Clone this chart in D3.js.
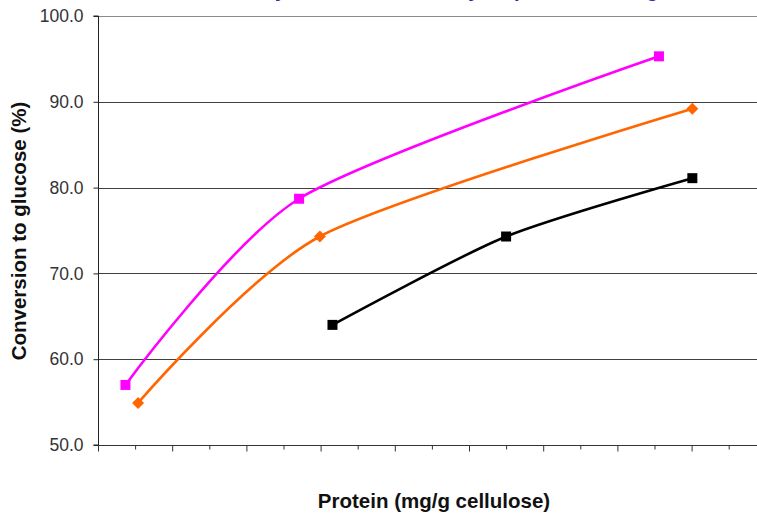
<!DOCTYPE html>
<html><head><meta charset="utf-8">
<script src="https://cdn.jsdelivr.net/npm/d3@7"></script>
<style>body{margin:0;background:#fff}svg{display:block}</style>
</head><body>
<script>
// Data (x in protein loading units, y = conversion %)
const pinkX = [3.7, 27.1, 75.6];
const pinkY = [57.0, 78.7, 95.3];
const orangeX = [5.4, 29.9, 80.1];
const orangeY = [54.9, 74.3, 89.2];
const blackX = [31.6, 55.0, 80.1];
const blackY = [64.0, 74.3, 81.1];
const yTicks = [50, 60, 70, 80, 90, 100];
const title = "Glucose yield at different enzyme protein loadings";

const W = 757, H = 519;
const FONT = "Liberation Sans, Arial, sans-serif";
const svg = d3.select("body").append("svg").attr("width", W).attr("height", H);
const x = d3.scaleLinear().domain([0, 90]).range([98, 98 + 90 * 7.42]);
const y = d3.scaleLinear().domain([50, 100]).range([445, 16]);

// title (mostly clipped off the top, as in the reference)
svg.append("text").attr("x", 430).attr("y", -3.5).attr("text-anchor", "middle")
  .attr("font-family", FONT).attr("font-weight", "bold")
  .attr("font-size", 20).attr("fill", "#2b2bb0").text(title);

// gridlines
svg.append("g").selectAll("line").data(yTicks.filter(d => d > 50)).join("line")
  .attr("x1", 98).attr("x2", W).attr("y1", d => Math.round(y(d)) + 0.5).attr("y2", d => Math.round(y(d)) + 0.5)
  .attr("stroke", d => d === 100 ? "#8a8a8a" : "#404040").attr("stroke-width", 1);

// y axis
const yAxis = d3.axisLeft(y).tickValues(yTicks).tickFormat(d3.format(".1f")).tickSize(5).tickPadding(10);
const gy = svg.append("g").attr("transform", "translate(98.5,0)").call(yAxis);
gy.select(".domain").attr("stroke", "#222").attr("d", `M-5,${y(100)}H0V${y(50)}H-5`);
gy.selectAll(".tick line").attr("stroke", "#222");
gy.selectAll("text").attr("font-family", FONT).attr("font-size", 17.5).attr("fill", "#333");

// x axis (major + minor ticks, no labels)
const majorT = d3.range(0, 100, 10), minorT = d3.range(5, 100, 10);
const gx = svg.append("g").attr("transform", "translate(0,445.5)");
gx.call(d3.axisBottom(x).tickValues(majorT).tickSize(6).tickFormat(""));
gx.select(".domain").attr("stroke", "#333").attr("d", `M98,0H${W}`);
gx.selectAll(".tick line").attr("stroke", "#333");
const gx2 = svg.append("g").attr("transform", "translate(0,445.5)");
gx2.call(d3.axisBottom(x).tickValues(minorT).tickSize(4).tickFormat(""));
gx2.select(".domain").remove();
gx2.selectAll(".tick line").attr("stroke", "#333");

// axis titles
svg.append("text").attr("x", 434).attr("y", 508).attr("text-anchor", "middle")
  .attr("font-family", FONT).attr("font-weight", "bold").attr("font-size", 20.5)
  .attr("fill", "#111").text("Protein (mg/g cellulose)");
svg.append("text").attr("transform", "translate(26,231) rotate(-90)").attr("text-anchor", "middle")
  .attr("font-family", FONT).attr("font-weight", "bold").attr("font-size", 20.5)
  .attr("fill", "#111").text("Conversion to glucose (%)");

const series = [
  {xs: pinkX, ys: pinkY, color: "#ff00ff", marker: "square"},
  {xs: orangeX, ys: orangeY, color: "#ff6600", marker: "diamond"},
  {xs: blackX, ys: blackY, color: "#000000", marker: "square"}
];
const line = d3.line().x(d => x(d[0])).y(d => y(d[1])).curve(d3.curveCardinal.tension(0.25));
series.forEach(s => {
  const pts = s.xs.map((v, i) => [v, s.ys[i]]);
  svg.append("path").attr("d", line(pts)).attr("fill", "none").attr("stroke", s.color).attr("stroke-width", 2.6);
  const sym = s.marker === "square" ? d3.symbol().type(d3.symbolSquare).size(100)() : "M0,-6L6,0L0,6L-6,0Z";
  svg.append("g").selectAll("path").data(pts).join("path")
    .attr("transform", d => `translate(${x(d[0])},${y(d[1])})`).attr("d", sym).attr("fill", s.color);
});
</script>
</body></html>
